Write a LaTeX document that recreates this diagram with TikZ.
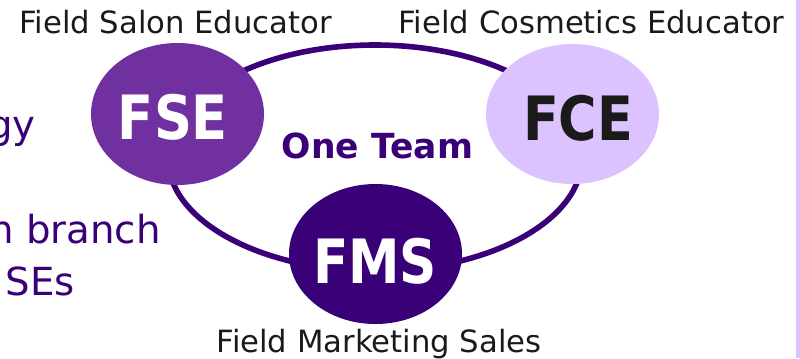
\documentclass[tikz,border=0pt]{standalone}
\usepackage{fontspec}
\setmainfont{DejaVu Sans}
\usepackage{graphicx}
\usetikzlibrary{shapes.geometric}
\definecolor{fsecol}{HTML}{7030A0}
\definecolor{fmscol}{HTML}{3A0078}
\definecolor{lav}{HTML}{DCC3FF}
\definecolor{txtdark}{HTML}{1A1A1A}
\tikzset{
  blob/.style={ellipse, inner sep=0pt, outer sep=0pt, minimum width=129.75pt, minimum height=105pt},
  biglabel/.style={inner sep=0pt, anchor=base, font=\bfseries},
  rolelabel/.style={inner sep=0pt, anchor=base, text=txtdark, font=\fontsize{23}{27}\selectfont},
  sidetext/.style={inner sep=0pt, anchor=base east, text=fmscol, font=\fontsize{29}{34}\selectfont},
  ringline/.style={draw=fmscol, line width=4.2pt}
}
\begin{document}
\begin{tikzpicture}[x=0.75pt,y=-0.75pt]
\useasboundingbox (0,0) rectangle (800,358);
\fill[white] (0,0) rectangle (800,358);
\fill[lav] (796,0) rectangle (800,358);
% ring
\node[ringline, ellipse, inner sep=0pt, minimum width=310.5pt, minimum height=169.5pt] (ring) at (375,158) {};
% side texts (cut by the left edge)
\node[sidetext] (t1) at (36,138) {gy};
\node[sidetext] (t2) at (161,243) {n branch};
\node[sidetext] (t3) at (75,295) {SEs};
% circles
\node[blob, fill=fsecol, minimum height=106.5pt] (fse) at (177.5,114) {};
\node[blob, fill=lav] (fce) at (572.5,114) {};
\node[blob, fill=fmscol] (fms) at (375.5,254) {};
% big labels
\node[biglabel, text=white] (fsetext) at (173,139) {\resizebox{82.5pt}{34pt}{FSE}};
\node[biglabel, text=txtdark] (fcetext) at (578,140) {\resizebox{82.5pt}{34pt}{FCE}};
\node[biglabel, text=white] (fmstext) at (375,283) {\resizebox{93pt}{34pt}{FMS}};
% one team
\node[biglabel, text=fmscol] (team) at (377.5,158) {\resizebox{143.25pt}{!}{\fontsize{25}{30}\selectfont One Team}};
% role labels
\node[rolelabel] (fselab) at (175.5,33) {Field Salon Educator};
\node[rolelabel] (fcelab) at (591.5,33) {Field Cosmetics Educator};
\node[rolelabel] (fmslab) at (379,352) {Field Marketing Sales};
\end{tikzpicture}
\end{document}
